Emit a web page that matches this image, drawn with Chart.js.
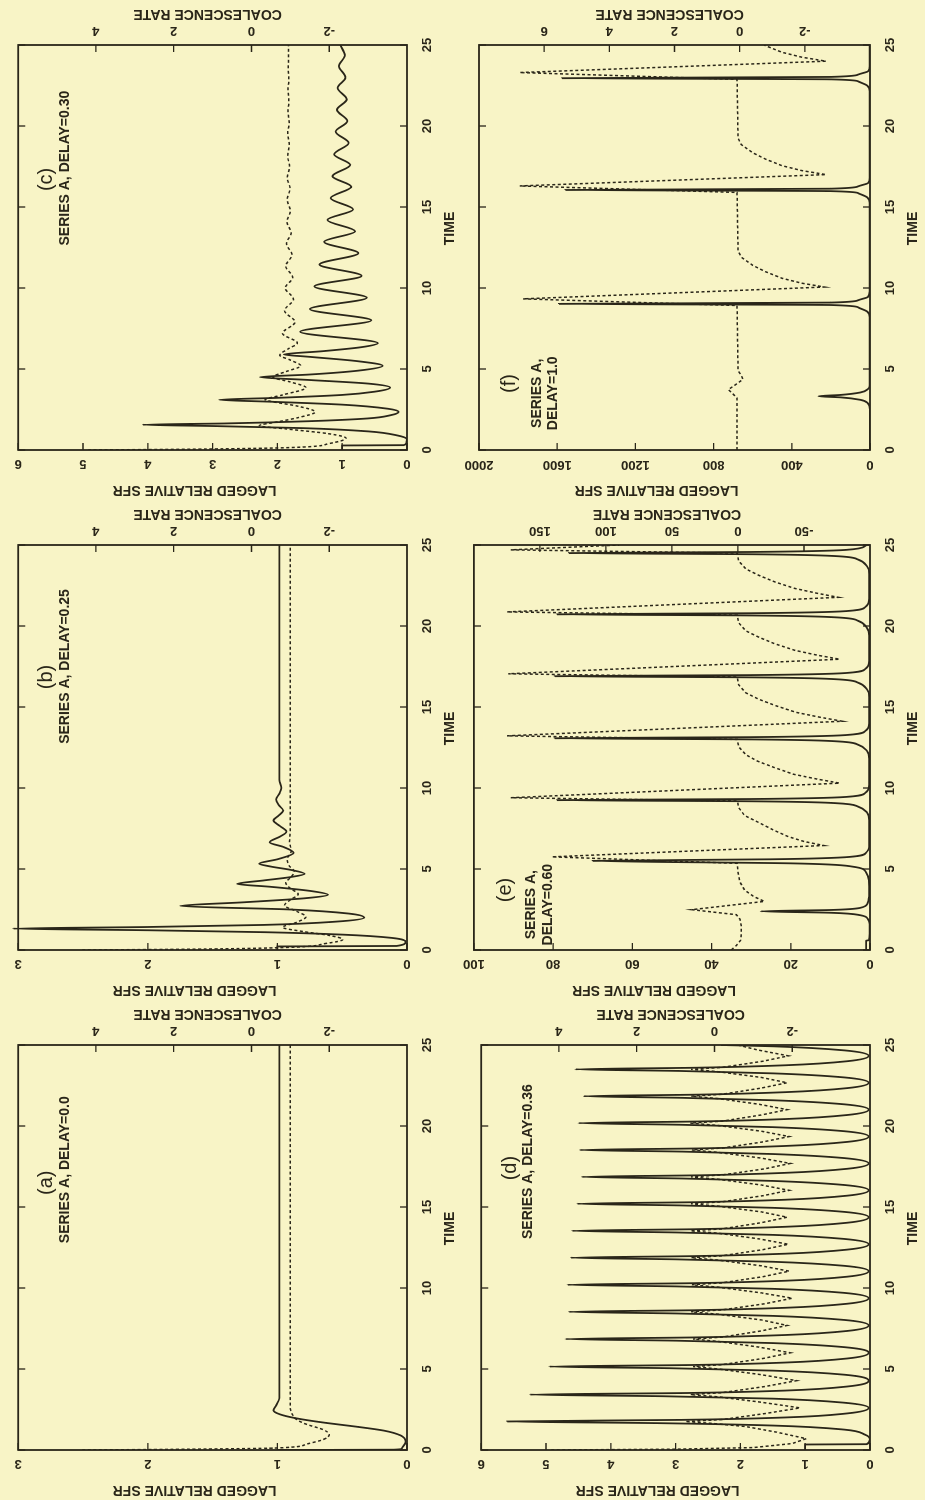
<!DOCTYPE html>
<html>
<head>
<meta charset="utf-8">
<title>Series A - lagged relative SFR and coalescence rate</title>
<script src="https://cdn.jsdelivr.net/npm/chart.js@4.4.1/dist/chart.umd.min.js"></script>
<style>
  html, body { margin: 0; padding: 0; }
  body { width: 925px; height: 1500px; overflow: hidden; background: #f8f4c6; position: relative; }
  /* the figure is laid out landscape and turned a quarter turn, like the scanned page */
  #sheet { position: absolute; left: 0; top: 0; width: 1500px; height: 925px;
           transform-origin: 0 0; transform: translate(0, 1500px) rotate(-90deg); }
  #sheet canvas { position: absolute; }
</style>
</head>
<body>
<div id="sheet">
  <canvas id="pa" width="500" height="462" style="left:0px;top:0px"></canvas>
  <canvas id="pb" width="500" height="462" style="left:500px;top:0px"></canvas>
  <canvas id="pc" width="500" height="462" style="left:1000px;top:0px"></canvas>
  <canvas id="pd" width="500" height="462" style="left:0px;top:463px"></canvas>
  <canvas id="pe" width="500" height="462" style="left:500px;top:463px"></canvas>
  <canvas id="pf" width="500" height="462" style="left:1000px;top:463px"></canvas>
</div>
<script>
const INK = '#2a2619';
const FONT = "'Liberation Sans', Arial, Helvetica, sans-serif";
Chart.defaults.font.family = FONT;
Chart.defaults.color = INK;

// (a) delay 0.0
const aSfrT = [0, 0.02, 0.1, 0.5, 0.9, 1.2, 1.45, 1.7, 1.95, 2.2, 2.45, 2.75, 3.2, 25];
const aSfrV = [1.0, 0.1, 0.04, 0.01, 0.05, 0.18, 0.4, 0.65, 0.85, 0.98, 1.03, 1.01, 0.985, 0.985];
const aCoalT = [0, 0.04, 0.12, 0.35, 0.65, 0.95, 1.25, 1.6, 1.9, 2.2, 2.6, 25];
const aCoalV = [4.35, 2.0, -0.6, -1.4, -1.85, -2.0, -1.85, -1.4, -1.15, -1.05, -1.0, -1.0];

// (b) delay 0.25
const bSfrT = [0, 0.22, 0.25, 0.5, 0.75, 0.95, 1.1, 1.22, 1.32, 1.42, 1.55, 1.75, 2.0, 2.25, 2.5, 2.72, 2.95, 3.2, 3.41, 3.65,
  3.9, 4.08, 4.3, 4.5, 4.7, 4.95, 5.15, 5.33, 5.6, 6.0, 6.35, 6.65, 7.0, 7.3, 7.65, 8.0, 8.3, 8.6, 8.95, 9.3,
  9.65, 10.0, 10.5, 25];
const bSfrV = [1, 1, 0.08, 0.01, 0.12, 0.5, 1.1, 2.0, 3.04, 2.0, 1.1, 0.55, 0.33, 0.45, 0.9, 1.75, 1.25, 0.78, 0.61, 0.75,
  1.05, 1.31, 1.1, 0.9, 0.79, 0.9, 1.05, 1.14, 1.0, 0.875, 0.95, 1.06, 0.98, 0.93, 0.98, 1.03, 0.99, 0.955, 0.99, 1.01,
  0.985, 0.97, 0.985, 0.985];
const bCoalT = [0, 0.05, 0.15, 0.4, 0.65, 0.9, 1.15, 1.4, 1.7, 2.05, 2.4, 2.75, 3.1, 3.45, 3.8, 4.15, 4.5, 4.85, 5.2, 5.6,
  6.1, 6.7, 7.5, 25];
const bCoalV = [4.35, 1.5, -0.8, -1.9, -2.35, -2.0, -1.3, -0.8, -1.15, -1.4, -1.15, -0.85, -1.0, -1.2, -1.0, -0.88, -1.02, -1.1, -0.97, -0.92,
  -1.02, -0.98, -1.0, -1.0];

// (c) delay 0.30
const cSfrT = [0, 0.28, 0.3, 0.45, 0.65, 0.9, 1.15, 1.35, 1.48, 1.56, 1.64, 1.78, 1.95, 2.15, 2.35, 2.55, 2.8, 2.98, 3.1, 3.22,
  3.4, 3.6, 3.85, 4.1, 4.32, 4.5, 4.66, 4.9, 5.2, 5.5, 5.75, 5.9, 6.1, 6.35, 6.6, 7.3, 8.0, 8.7, 9.4, 10.1,
  10.75, 11.45, 12.15, 12.85, 13.5, 14.2, 14.85, 15.55, 16.25, 16.9, 17.6, 18.25, 18.95, 19.65, 20.3, 21.0, 21.65, 22.35, 23.0, 23.7,
  24.35, 25];
const cSfrV = [1, 1, 0.05, 0.01, 0.0, 0.15, 0.6, 1.6, 3.0, 4.08, 2.8, 1.5, 0.6, 0.25, 0.13, 0.3, 1.0, 2.1, 2.9, 2.0,
  1.0, 0.5, 0.26, 0.6, 1.5, 2.27, 1.5, 0.75, 0.375, 0.8, 1.5, 1.9, 1.3, 0.7, 0.45, 1.65, 0.55, 1.5, 0.62, 1.43,
  0.7, 1.35, 0.75, 1.28, 0.8, 1.23, 0.83, 1.18, 0.86, 1.15, 0.875, 1.125, 0.9, 1.1, 0.92, 1.08, 0.93, 1.07, 0.95, 1.05,
  0.96, 1.03];
const cCoalT = [0, 0.05, 0.15, 0.4, 0.73, 1.0, 1.3, 1.5, 1.75, 2.0, 2.35, 2.7, 3.0, 3.1, 3.4, 3.85, 4.2, 4.5, 4.85, 5.2,
  5.55, 5.85, 6.25, 6.6, 7.2, 7.9, 8.6, 9.3, 10.0, 10.65, 11.35, 12.05, 12.75, 13.4, 14.1, 14.75, 15.45, 16.15, 16.8, 17.5,
  18.15, 18.85, 19.55, 20.2, 20.9, 21.55, 22.25, 22.9, 23.6, 24.25, 25];
const cCoalV = [4.2, 1.5, -1.0, -2.0, -2.43, -2.0, -0.9, -0.2, -0.7, -1.2, -1.64, -1.2, -0.5, -0.35, -0.8, -1.4, -1.0, -0.55, -0.9, -1.27,
  -1.0, -0.73, -0.95, -1.18, -0.8, -1.12, -0.85, -1.08, -0.87, -1.06, -0.88, -1.04, -0.9, -1.02, -0.91, -1.0, -0.92, -0.99, -0.92, -0.98,
  -0.93, -0.97, -0.93, -0.97, -0.94, -0.96, -0.94, -0.96, -0.945, -0.955, -0.95];

// (d) delay 0.36
const dSfrT = [0, 0.34, 0.36, 0.65, 0.95, 1.26, 1.51, 1.66, 1.76, 1.86, 2.01, 2.26, 2.6,
  2.92, 3.17, 3.32, 3.42, 3.52, 3.67, 3.92, 4.28,
  4.65, 4.9, 5.05, 5.15, 5.25, 5.4, 5.65, 6.0,
  6.35, 6.6, 6.75, 6.85, 6.95, 7.1, 7.35, 7.69,
  8.03, 8.28, 8.43, 8.53, 8.63, 8.78, 9.03, 9.37,
  9.7, 9.95, 10.1, 10.2, 10.3, 10.45, 10.7, 11.04,
  11.37, 11.62, 11.77, 11.87, 11.97, 12.12, 12.37, 12.7,
  13.03, 13.28, 13.43, 13.53, 13.63, 13.78, 14.03, 14.37,
  14.7, 14.95, 15.1, 15.2, 15.3, 15.45, 15.7, 16.03,
  16.36, 16.61, 16.76, 16.86, 16.96, 17.11, 17.36, 17.69,
  18.02, 18.27, 18.42, 18.52, 18.62, 18.77, 19.02, 19.35,
  19.68, 19.93, 20.08, 20.18, 20.28, 20.43, 20.68, 21.01,
  21.34, 21.59, 21.74, 21.84, 21.94, 22.09, 22.34, 22.67,
  23.0, 23.25, 23.4, 23.5, 23.6, 23.75, 24.0, 24.33,
  24.67, 24.92, 25];
const dSfrV = [1, 1, 0.05, 0.0, 0.08, 0.4, 1.5, 3.3, 5.6, 2.9, 1.3, 0.35, 0.02,
  0.4, 1.5, 3.2, 5.25, 2.8, 1.3, 0.35, 0.02,
  0.4, 1.5, 3.1, 4.95, 2.7, 1.3, 0.35, 0.02,
  0.4, 1.5, 3.0, 4.7, 2.7, 1.3, 0.35, 0.02,
  0.4, 1.5, 3.0, 4.65, 2.7, 1.3, 0.35, 0.02,
  0.4, 1.5, 3.0, 4.67, 2.7, 1.3, 0.35, 0.02,
  0.4, 1.5, 3.0, 4.62, 2.7, 1.3, 0.35, 0.02,
  0.4, 1.5, 3.0, 4.6, 2.7, 1.3, 0.35, 0.02,
  0.4, 1.5, 2.95, 4.52, 2.65, 1.3, 0.35, 0.02,
  0.4, 1.5, 2.9, 4.45, 2.6, 1.3, 0.35, 0.02,
  0.4, 1.5, 2.9, 4.48, 2.6, 1.3, 0.35, 0.02,
  0.4, 1.5, 2.95, 4.5, 2.65, 1.3, 0.35, 0.02,
  0.4, 1.5, 2.9, 4.42, 2.6, 1.3, 0.35, 0.02,
  0.4, 1.5, 2.95, 4.55, 2.65, 1.3, 0.35, 0.02,
  0.4, 1.5, 2.3];
const dCoalT = [0, 0.05, 0.15, 0.4, 0.7, 1.1, 1.45, 1.65, 1.76, 1.88, 2.25, 2.6,
  2.95, 3.28, 3.42, 3.54, 3.92, 4.28,
  4.65, 5.0, 5.15, 5.27, 5.65, 6.0,
  6.35, 6.7, 6.85, 6.97, 7.35, 7.69,
  8.03, 8.38, 8.53, 8.65, 9.03, 9.37,
  9.7, 10.05, 10.2, 10.32, 10.7, 11.04,
  11.37, 11.72, 11.87, 11.99, 12.37, 12.7,
  13.03, 13.38, 13.53, 13.65, 14.03, 14.37,
  14.7, 15.05, 15.2, 15.32, 15.7, 16.03,
  16.36, 16.71, 16.86, 16.98, 17.36, 17.69,
  18.02, 18.37, 18.52, 18.64, 19.02, 19.35,
  19.68, 20.03, 20.18, 20.3, 20.68, 21.01,
  21.34, 21.69, 21.84, 21.96, 22.34, 22.67,
  23.0, 23.35, 23.5, 23.62, 24.0, 24.33,
  24.7, 25];
const dCoalV = [4.2, 1.0, -1.0, -2.0, -2.36, -1.6, -0.8, 0.1, 0.75, -0.2, -1.3, -2.2,
  -1.2, -0.1, 0.62, -0.2, -1.3, -2.11,
  -1.2, -0.1, 0.55, -0.2, -1.25, -1.95,
  -1.15, -0.1, 0.55, -0.2, -1.2, -1.87,
  -1.2, -0.1, 0.6, -0.2, -1.3, -2.0,
  -1.2, -0.1, 0.58, -0.2, -1.25, -1.92,
  -1.2, -0.1, 0.6, -0.2, -1.25, -1.9,
  -1.15, -0.1, 0.62, -0.2, -1.2, -1.87,
  -1.2, -0.1, 0.6, -0.2, -1.25, -1.92,
  -1.2, -0.1, 0.6, -0.2, -1.3, -1.95,
  -1.2, -0.1, 0.58, -0.2, -1.25, -1.92,
  -1.2, -0.1, 0.62, -0.2, -1.2, -1.87,
  -1.15, -0.1, 0.6, -0.2, -1.2, -1.87,
  -1.2, -0.1, 0.6, -0.2, -1.25, -1.9,
  -1.1, -0.6];

// (e) delay 0.60
const eSfrT = [0, 0.58, 0.6, 1.0, 1.6, 1.9, 2.15, 2.3, 2.39, 2.47, 2.6, 2.9, 3.5, 4.3, 4.8, 5.15, 5.35, 5.5, 5.6, 5.75,
  6.0, 6.5, 8.0, 8.5, 8.85, 9.07, 9.18, 9.25, 9.32, 9.45, 9.7, 10.2, 11.8, 12.3, 12.67, 12.89, 13.0, 13.07, 13.14, 13.27,
  13.52, 14.0, 15.6, 16.1, 16.5, 16.72, 16.83, 16.9, 16.97, 17.1, 17.35, 17.85, 19.4, 19.9, 20.32, 20.54, 20.65, 20.72, 20.79, 20.92,
  21.17, 21.7, 23.2, 23.7, 24.1, 24.32, 24.43, 24.5, 24.57, 24.7, 24.95, 25];
const eSfrV = [1, 1, 0.3, 0.1, 0.1, 0.5, 2.5, 10, 27.6, 10, 2.5, 0.6, 0.2, 0.3, 1.0, 4.5, 20, 70, 25, 5,
  1.0, 0.2, 0.2, 0.8, 3, 9, 30, 79, 30, 6, 1.2, 0.2, 0.2, 0.8, 3, 9, 30, 79.6, 30, 6,
  1.2, 0.2, 0.2, 0.8, 3, 9, 30, 79.6, 30, 6, 1.2, 0.2, 0.2, 0.8, 3, 9, 30, 79, 30, 6,
  1.2, 0.2, 0.2, 0.8, 3, 9, 30, 76, 30, 6, 1.2, 0.9];
const eCoalT = [0, 0.3, 0.6, 1.0, 1.5, 1.9, 2.18, 2.49, 3.0, 3.3, 3.7, 4.2, 4.8, 5.35, 5.75, 6.45, 6.7, 7.0, 7.4, 7.9,
  8.3, 8.8, 9.2, 9.4, 10.3, 10.55, 10.85, 11.25, 11.65, 12.05, 12.55, 13.0, 13.22, 14.12, 14.37, 14.67, 15.07, 15.47, 15.87, 16.37,
  16.85, 17.05, 17.95, 18.2, 18.5, 18.9, 19.3, 19.7, 20.2, 20.67, 20.87, 21.77, 22.02, 22.32, 22.72, 23.12, 23.52, 24.02, 24.5, 24.7,
  25];
const eCoalV = [5, 1, -2, -2.5, -2.5, -1.5, 1.25, 35, -20, -12, -5, -1.5, 0, 0.5, 141, -65, -50, -38, -27, -15,
  -5, -0.5, 0.5, 172, -77, -60, -42, -28, -15, -6, -0.5, 0.5, 175, -79, -62, -44, -29, -16, -6, -0.5,
  0.5, 174, -77, -60, -43, -28, -16, -6, -0.5, 0.5, 175, -76, -60, -43, -28, -16, -6, -0.5, 0.5, 172,
  90];

// (f) delay 1.0
const fSfrT = [0, 1.0, 1.02, 2.5, 2.9, 3.1, 3.25, 3.32, 3.4, 3.55, 3.75, 4.0, 8.2, 8.55, 8.8, 8.95, 9.02, 9.1, 9.25, 9.45,
  9.8, 15.25, 15.6, 15.85, 15.98, 16.05, 16.13, 16.28, 16.48, 16.8, 22.15, 22.5, 22.75, 22.88, 22.95, 23.03, 23.18, 23.38, 23.7, 25];
const fSfrV = [1, 1, 0.5, 0.5, 12, 50, 150, 264, 150, 50, 12, 2, 2, 15, 60, 200, 1591, 200, 60, 10,
  2, 2, 15, 60, 200, 1558, 200, 60, 10, 2, 2, 15, 60, 200, 1575, 200, 60, 10, 2, 2];
const fCoalT = [0, 3.2, 3.45, 3.73, 4.0, 4.36, 4.6, 4.9, 8.92, 9.33, 10.06, 10.3, 10.6, 11.0, 11.4, 11.9, 12.3, 15.9, 16.3, 17.0,
  17.25, 17.55, 17.95, 18.35, 18.85, 19.25, 22.88, 23.3, 24.0, 24.25, 24.55, 24.95, 25];
const fCoalV = [0.08, 0.08, 0.2, 0.35, 0.15, -0.1, -0.05, 0.05, 0.08, 6.65, -2.6, -1.9, -1.3, -0.8, -0.4, -0.05, 0.05, 0.08, 6.75, -2.65,
  -1.9, -1.3, -0.8, -0.4, -0.05, 0.05, 0.08, 6.75, -2.65, -1.9, -1.3, -0.8, -0.75];

const panels = [
  { id: 'pa', sfrT: aSfrT, sfrV: aSfrV, coalT: aCoalT, coalV: aCoalV,
    sfrMax: 3, sfrStep: 1, coalMin: -4, coalMax: 6, coalStep: 2, sfrPad: 10.4, coalPad: 8.2,
    tag: '(a)', tagAt: 16.5, tagDy: 28, note: ['SERIES A, DELAY=0.0'], noteAt: 17.3, noteDy: [47], clipSfr: true, smoothCoal: true },
  { id: 'pb', sfrT: bSfrT, sfrV: bSfrV, coalT: bCoalT, coalV: bCoalV,
    sfrMax: 3, sfrStep: 1, coalMin: -4, coalMax: 6, coalStep: 2, sfrPad: 10.4, coalPad: 8.2,
    tag: '(b)', tagAt: 16.85, tagDy: 28, note: ['SERIES A, DELAY=0.25'], noteAt: 17.5, noteDy: [47], clipSfr: false, smoothCoal: true },
  { id: 'pc', sfrT: cSfrT, sfrV: cSfrV, coalT: cCoalT, coalV: cCoalV,
    sfrMax: 6, sfrStep: 1, coalMin: -4, coalMax: 6, coalStep: 2, sfrPad: 10.4, coalPad: 8.2,
    tag: '(c)', tagAt: 16.7, tagDy: 28, note: ['SERIES A, DELAY=0.30'], noteAt: 17.4, noteDy: [47], clipSfr: true, smoothCoal: true },
  { id: 'pd', sfrT: dSfrT, sfrV: dSfrV, coalT: dCoalT, coalV: dCoalV,
    sfrMax: 6, sfrStep: 1, coalMin: -4, coalMax: 6, coalStep: 2, sfrPad: 10.4, coalPad: 8.2,
    tag: '(d)', tagAt: 17.4, tagDy: 29, note: ['SERIES A, DELAY=0.36'], noteAt: 17.8, noteDy: [47], clipSfr: true, smoothCoal: false },
  { id: 'pe', sfrT: eSfrT, sfrV: eSfrV, coalT: eCoalT, coalV: eCoalV,
    sfrMax: 100, sfrStep: 20, coalMin: -100, coalMax: 200, coalStep: 50, sfrPad: 3.1, coalPad: 3.1,
    tag: '(e)', tagAt: 3.7, tagDy: 32, note: ['SERIES A,', 'DELAY=0.60'], noteAt: 2.8, noteDy: [57, 74], clipSfr: true, smoothCoal: false },
  { id: 'pf', sfrT: fSfrT, sfrV: fSfrV, coalT: fCoalT, coalV: fCoalV,
    sfrMax: 2000, sfrStep: 400, coalMin: -4, coalMax: 8, coalStep: 2, sfrPad: 0, coalPad: 8.2,
    tag: '(f)', tagAt: 4.1, tagDy: 30, note: ['SERIES A,', 'DELAY=1.0'], noteAt: 3.5, noteDy: [58, 74], clipSfr: true, smoothCoal: false },
];

const tickFont = { family: FONT, size: 13, weight: 'bold' };
const TICK = 7;

function pts(ts, vs) {
  return ts.map((t, i) => ({ x: t, y: vs[i] }));
}

function sideways(ctx, text, x, y) {
  ctx.save();
  ctx.translate(x, y);
  ctx.rotate(-Math.PI / 2);
  ctx.fillText(text, 0, 0);
  ctx.restore();
}

// frame, inward tick marks, axis titles and the panel notes
function drawPaper(chart, p) {
  const { ctx, chartArea: a, scales } = chart;
  ctx.save();
  ctx.strokeStyle = INK;
  ctx.lineWidth = 1.8;
  ctx.strokeRect(a.left, a.top, a.right - a.left, a.bottom - a.top);

  ctx.lineWidth = 1.3;
  ctx.beginPath();
  scales.x.ticks.forEach(t => {
    const px = scales.x.getPixelForValue(t.value);
    ctx.moveTo(px, a.bottom); ctx.lineTo(px, a.bottom - TICK);
    ctx.moveTo(px, a.top); ctx.lineTo(px, a.top + TICK);
  });
  scales.y.ticks.forEach(t => {
    const py = scales.y.getPixelForValue(t.value);
    ctx.moveTo(a.left, py); ctx.lineTo(a.left + TICK, py);
  });
  scales.y2.ticks.forEach(t => {
    const py = scales.y2.getPixelForValue(t.value);
    ctx.moveTo(a.right, py); ctx.lineTo(a.right - TICK, py);
  });
  ctx.stroke();

  ctx.fillStyle = INK;
  ctx.textAlign = 'center';
  ctx.textBaseline = 'middle';
  ctx.font = 'bold 14px ' + FONT;
  const midX = (a.left + a.right) / 2;
  const midY = (a.top + a.bottom) / 2;
  ctx.fillText('TIME', midX + 19, a.bottom + 43);
  sideways(ctx, 'LAGGED RELATIVE SFR', a.left - 40, midY - 18);
  sideways(ctx, 'COALESCENCE RATE', a.right + 31, midY - 5);

  ctx.font = '20px ' + FONT;
  ctx.fillText(p.tag, scales.x.getPixelForValue(p.tagAt), a.top + p.tagDy);
  ctx.font = 'bold 14px ' + FONT;
  p.note.forEach((line, i) => {
    ctx.fillText(line, scales.x.getPixelForValue(p.noteAt), a.top + p.noteDy[i]);
  });
  ctx.restore();
}

function makePanel(p) {
  new Chart(document.getElementById(p.id), {
    type: 'line',
    data: {
      datasets: [
        {
          label: 'Lagged relative SFR',
          data: pts(p.sfrT, p.sfrV),
          yAxisID: 'y',
          borderColor: INK,
          borderWidth: 1.8,
          pointRadius: 0,
          cubicInterpolationMode: 'monotone',
          clip: p.clipSfr ? undefined : false,
        },
        {
          label: 'Coalescence rate',
          data: pts(p.coalT, p.coalV),
          yAxisID: 'y2',
          borderColor: INK,
          borderWidth: 1.5,
          borderDash: [3, 2.5],
          pointRadius: 0,
          cubicInterpolationMode: p.smoothCoal ? 'monotone' : 'default',
          tension: 0,
        },
      ],
    },
    options: {
      responsive: false,
      animation: false,
      devicePixelRatio: 1,
      layout: { padding: { top: 7, left: 0, right: 0, bottom: 0 } },
      plugins: { legend: { display: false }, tooltip: { enabled: false } },
      scales: {
        x: {
          type: 'linear', position: 'bottom', min: 0, max: 25,
          grid: { display: false, drawTicks: false }, border: { display: false },
          ticks: { stepSize: 5, autoSkip: false, minRotation: 0, maxRotation: 0, padding: 12.2,
                   font: tickFont, callback: v => String(v) },
          afterFit: s => { s.height = 55; },
        },
        y: {
          type: 'linear', position: 'left', min: 0, max: p.sfrMax,
          grid: { display: false, drawTicks: false }, border: { display: false },
          ticks: { stepSize: p.sfrStep, autoSkip: false, minRotation: 90, maxRotation: 90,
                   crossAlign: 'center', padding: p.sfrPad, font: tickFont, callback: v => String(v) },
          afterFit: s => { s.width = 50; },
        },
        y2: {
          type: 'linear', position: 'right', min: p.coalMin, max: p.coalMax,
          grid: { display: false, drawTicks: false }, border: { display: false },
          ticks: { stepSize: p.coalStep, autoSkip: false, minRotation: 90, maxRotation: 90,
                   crossAlign: 'center', padding: p.coalPad, font: tickFont, callback: v => String(v) },
          afterBuildTicks: s => { s.ticks = s.ticks.filter(t => t.value > s.min && t.value < s.max); },
          afterFit: s => { s.width = 45; },
        },
      },
    },
    plugins: [{ id: 'paper', afterDraw: chart => drawPaper(chart, p) }],
  });
}

panels.forEach(makePanel);
</script>
</body>
</html>
